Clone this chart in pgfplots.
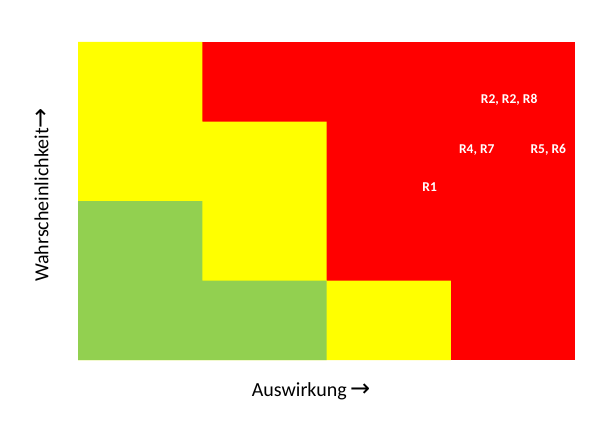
\documentclass[border=0pt]{standalone}
\usepackage{fontspec}
\setmainfont{Carlito}
\newfontfamily\arrowfont{DejaVu Sans}
\usepackage{pgfplots}
\pgfplotsset{compat=1.18}
\definecolor{cred}{RGB}{255,0,0}
\definecolor{cyellow}{RGB}{255,255,0}
\definecolor{cgreen}{RGB}{146,208,80}
\newcommand{\arr}{{\arrowfont\fontsize{24bp}{24bp}\selectfont →}}
\begin{document}
\begin{tikzpicture}
\path[use as bounding box] (-78bp,-65bp) rectangle (536bp,360bp);
\begin{axis}[
  at={(0,0)}, anchor=south west,
  scale only axis, width=497bp, height=318bp,
  xmin=0, xmax=4, ymin=0, ymax=4,
  hide axis,
  clip=false,
]
\addplot[fill=cred, draw=none] coordinates {(0,0) (4,0) (4,4) (0,4)} -- cycle;
\addplot[fill=cyellow, draw=none] coordinates {(0,0) (3,0) (3,1) (2,1) (2,3) (1,3) (1,4) (0,4)} -- cycle;
\addplot[fill=cgreen, draw=none] coordinates {(0,0) (2,0) (2,1) (1,1) (1,2) (0,2)} -- cycle;
\node[text=white, font=\bfseries\fontsize{13.5bp}{16bp}\selectfont] at (axis cs:3.47,3.27) {R2, R2, R8};
\node[text=white, font=\bfseries\fontsize{13.5bp}{16bp}\selectfont] at (axis cs:3.21,2.64) {R4, R7};
\node[text=white, font=\bfseries\fontsize{13.5bp}{16bp}\selectfont] at (axis cs:3.785,2.64) {R5, R6};
\node[text=white, font=\bfseries\fontsize{13.5bp}{16bp}\selectfont] at (axis cs:2.83,2.18) {R1};
\node[anchor=base, font=\fontsize{20bp}{24bp}\selectfont, inner sep=0pt] at ([yshift=-36.7bp]axis description cs:0.4688,0) {Auswirkung\,\arr};
\node[anchor=base, rotate=90, font=\fontsize{20bp}{24bp}\selectfont, inner sep=0pt] at ([xshift=-29.7bp]axis description cs:0,0.519) {Wahrscheinlichkeit\arr};
\end{axis}
\end{tikzpicture}
\end{document}
